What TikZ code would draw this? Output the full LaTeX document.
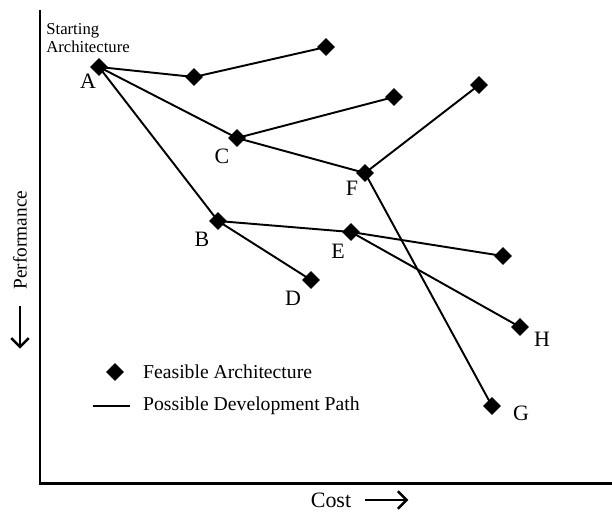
\documentclass[tikz,border=0pt]{standalone}
\usepackage{fontspec}
\setmainfont{Liberation Serif}
\usetikzlibrary{positioning}
\usetikzlibrary{arrows.meta}
\usetikzlibrary{shapes.geometric}

\begin{document}
\begin{tikzpicture}[x=0.02cm, y=-0.02cm, font=\fontsize{12.5}{14}\selectfont,
        arch/.style={draw, fill, diamond, inner sep=0pt, minimum width=0.34cm, minimum height=0.34cm},
        path/.style={line width=1.1pt},
        axis/.style={line width=1.7pt},
        arrow/.style={-{Straight Barb[length=5pt, width=10pt, line width=1.4pt]}, line width=1.5pt}]
        \useasboundingbox (0,0) rectangle (612,514);

        % axes
        \coordinate (top) at (40,10);
        \coordinate (origin) at (40,483);
        \coordinate (right) at (612,483);
        \draw[axis] (top) -- (origin) -- (right);

        % architectures
        \node[arch] (A) at (99,67) {};
        \node[arch] (a1) at (194,77) {};
        \node[arch] (a2) at (326,47) {};
        \node[arch] (C) at (237,138) {};
        \node[arch] (c1) at (394,97) {};
        \node[arch] (F) at (365,173) {};
        \node[arch] (f1) at (479,85) {};
        \node[arch] (G) at (492,406) {};
        \node[arch] (B) at (218,221) {};
        \node[arch] (D) at (311,280) {};
        \node[arch] (E) at (351,232) {};
        \node[arch] (e1) at (503,256) {};
        \node[arch] (H) at (520,327) {};

        % development paths
        \draw[path] (A.center) -- (a1.center) -- (a2.center);
        \draw[path] (A.center) -- (C.center) -- (c1.center);
        \draw[path] (C.center) -- (F.center) -- (f1.center);
        \draw[path] (F.center) -- (G.center);
        \draw[path] (A.center) -- (B.center) -- (D.center);
        \draw[path] (B.center) -- (E.center) -- (e1.center);
        \draw[path] (E.center) -- (H.center);

        % labels
        \node[align=left, anchor=west, font=\fontsize{9.5}{10}\selectfont, inner sep=0pt] (start) at (46,38) {Starting\\Architecture};
        \node (lA) at (88,81) {A};
        \node (lC) at (222,156) {C};
        \node (lF) at (352,188) {F};
        \node (lB) at (202,239) {B};
        \node (lE) at (338,251) {E};
        \node (lD) at (293,298) {D};
        \node (lH) at (542,339) {H};
        \node (lG) at (521,413) {G};

        % legend
        \node[arch] (key1) at (115,372) {};
        \node[anchor=west, font=\fontsize{11.2}{12}\selectfont] (txt1) at (137,372) {Feasible Architecture};
        \coordinate (key2a) at (93,406);
        \coordinate (key2b) at (130,406);
        \draw[line width=1.6pt] (key2a) -- (key2b);
        \node[anchor=west, font=\fontsize{11.2}{12}\selectfont] (txt2) at (137,406) {Possible Development Path};

        % axis titles
        \node[rotate=90, font=\fontsize{11}{12}\selectfont] (perf) at (20,240) {Performance};
        \draw[arrow] (perf.west) ++(0,10) -- ++(0,43);
        \node (cost) at (331,500) {Cost};
        \draw[arrow] (cost.east) ++(8,0) -- ++(43,0);
    \end{tikzpicture}
\end{document}
